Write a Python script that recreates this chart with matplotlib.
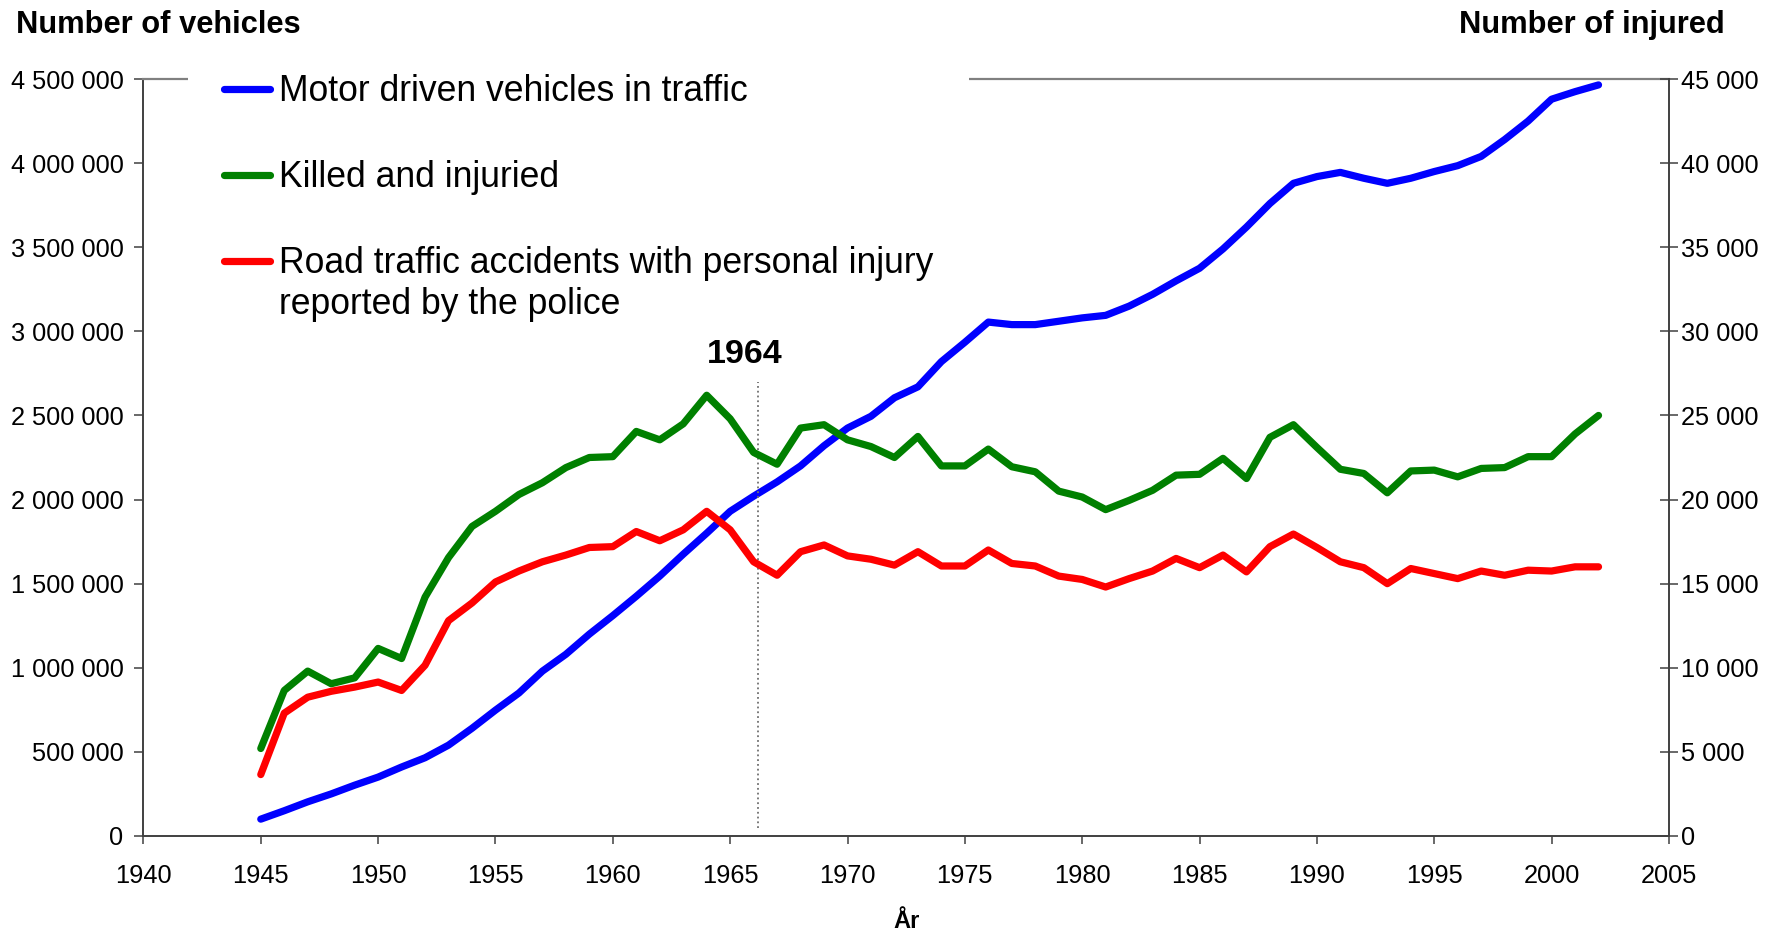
import matplotlib
matplotlib.use("Agg")
import matplotlib.pyplot as plt
from matplotlib.ticker import FuncFormatter, MultipleLocator
from matplotlib.transforms import IdentityTransform

plt.rcParams['font.family'] = ['Liberation Sans', 'DejaVu Sans']

years = list(range(1945, 2003))

# motor driven vehicles in traffic (left axis)
vehicles = [100, 150, 203, 250, 302, 350, 410, 465, 540, 640,
            748, 850, 980, 1080, 1200, 1310, 1425, 1545, 1675, 1800,
            1930, 2020, 2105, 2200, 2320, 2425, 2495, 2605, 2670, 2820,
            2935, 3055, 3040, 3040, 3060, 3080, 3095, 3150, 3220, 3300,
            3375, 3490, 3620, 3760, 3880, 3920, 3945, 3910, 3880, 3910,
            3950, 3985, 4040, 4140, 4250, 4380, 4425, 4465]
vehicles = [v * 1000 for v in vehicles]

# killed and injured (right axis)
injured = [5200, 8650, 9800, 9050, 9400, 11150, 10550, 14200, 16550, 18400,
           19300, 20300, 21000, 21900, 22500, 22550, 24050, 23550, 24500, 26200,
           24800, 22800, 22100, 24250, 24450, 23550, 23150, 22500, 23750, 22000,
           22000, 23000, 21950, 21650, 20500, 20150, 19400, 19950, 20550, 21450,
           21500, 22450, 21250, 23700, 24450, 23100, 21800, 21550, 20400, 21700,
           21750, 21350, 21850, 21900, 22550, 22550, 23900, 25000]

# accidents with personal injury (right axis)
accidents = [3650, 7300, 8250, 8600, 8850, 9150, 8650, 10150, 12800, 13850,
             15100, 15750, 16300, 16700, 17150, 17200, 18100, 17550, 18200, 19300,
             18200, 16300, 15500, 16900, 17300, 16650, 16450, 16100, 16900, 16050,
             16050, 17000, 16200, 16050, 15450, 15250, 14800, 15300, 15750, 16500,
             15950, 16700, 15700, 17200, 17950, 17150, 16300, 15950, 15000, 15900,
             15600, 15300, 15750, 15500, 15800, 15750, 16000, 16000]

labels = ['Motor driven vehicles in traffic', 'Killed and injuried',
          'Road traffic accidents with personal injury']
label_extra = 'reported by the police'

marker_year = 1966.2
marker_text = '1964'

spine_col = '#404040'
fmt = FuncFormatter(lambda v, p: f"{int(round(v)):,}".replace(",", " "))

fig = plt.figure(figsize=(17.84, 9.33), dpi=100)
ax = fig.add_axes([0.0804, 0.1040, 0.9355 - 0.0804, 0.9153 - 0.1040])
ax2 = ax.twinx()

l1, = ax.plot(years, vehicles, color='#0000FF', lw=5.2, solid_joinstyle='round',
              solid_capstyle='round')
l2, = ax2.plot(years, injured, color='#008000', lw=5.2, solid_joinstyle='round',
               solid_capstyle='round')
l3, = ax2.plot(years, accidents, color='#FF0000', lw=5.2, solid_joinstyle='round',
               solid_capstyle='round')

ax.vlines(marker_year, 0.05e6, 2.70e6, colors='#707070', linestyles=':', lw=1.3)
ax.text(1965.6, 2.865e6, marker_text, ha='center', va='center',
        fontsize=24.5, fontweight='bold')

ax.set_xlim(1940, 2005)
ax.set_ylim(0, 4.5e6)
ax2.set_ylim(0, 45000)
ax.xaxis.set_major_locator(MultipleLocator(5))
ax.yaxis.set_major_locator(MultipleLocator(500000))
ax2.yaxis.set_major_locator(MultipleLocator(5000))
ax.yaxis.set_major_formatter(fmt)
ax2.yaxis.set_major_formatter(fmt)

for s in ['left', 'bottom']:
    ax.spines[s].set_color(spine_col)
    ax.spines[s].set_linewidth(1.4)
ax.spines['top'].set_color('#808080')
ax.spines['top'].set_linewidth(1.6)
ax.spines['right'].set_visible(False)
for s in ['left', 'bottom', 'top']:
    ax2.spines[s].set_visible(False)
ax2.spines['right'].set_color(spine_col)
ax2.spines['right'].set_linewidth(1.4)

ax.tick_params(axis='y', direction='out', length=6.3, width=1.1, color=spine_col,
               labelsize=18.3, pad=8)
ax.tick_params(axis='x', direction='out', length=6, width=1.1, color=spine_col,
               labelsize=18.3, pad=14)
ax2.tick_params(axis='y', direction='inout', length=13, width=1.1, color=spine_col,
                labelsize=18.3, pad=2)

ax.set_xlabel('År', fontsize=17, fontweight='bold', labelpad=16)

fig.text(16 / 1784, 1 - 25 / 933, 'Number of vehicles', ha='left', va='center',
         fontsize=22.2, fontweight='bold')
fig.text(1725 / 1784, 1 - 25 / 933, 'Number of injured', ha='right', va='center',
         fontsize=22.2, fontweight='bold')

leg = ax2.legend([l1, l2, l3], labels, loc='upper left',
                 bbox_to_anchor=(0.0292, 1.0535), borderaxespad=0, borderpad=1.0,
                 fontsize=25.6, frameon=True, fancybox=False, facecolor='white',
                 edgecolor='none', framealpha=1, handlelength=1.32,
                 handletextpad=0.25, labelspacing=1.44)

fig.canvas.draw()
t3 = leg.get_texts()[2]
x0, y0 = t3.get_transform().transform(t3.get_position())
fig.text(x0, y0 - 41, label_extra, ha='left', va='baseline', fontsize=25.6,
         transform=IdentityTransform())

fig.savefig('out.png', dpi=100)
